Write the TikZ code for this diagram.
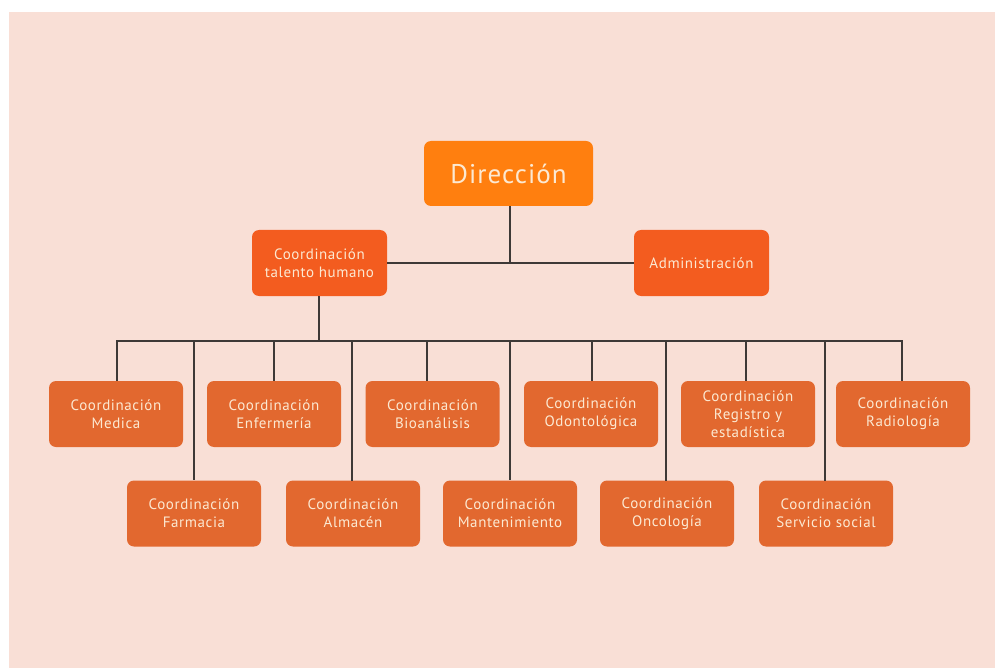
\documentclass[tikz,border=0pt]{standalone}
\usepackage{fontspec}
\setmainfont{PT Sans}[LetterSpace=4]
\definecolor{bgpink}{HTML}{F9DFD6}
\definecolor{dirorange}{HTML}{FF7F0F}
\definecolor{midorange}{HTML}{F35C1F}
\definecolor{loworange}{HTML}{E2682F}
\definecolor{txtcream}{HTML}{FCE9D2}
\definecolor{linegray}{HTML}{3E3937}
\begin{document}
\begin{tikzpicture}[x=1pt,y=-1pt,
  box/.style={rounded corners=7pt, text=txtcream, align=center, inner sep=0pt, font=\fontsize{15}{18}\selectfont},
  dirbox/.style={box, fill=dirorange, minimum width=169pt, minimum height=65pt, font=\fontsize{27}{30}\selectfont},
  midbox/.style={box, fill=midorange, minimum width=135pt, minimum height=66pt},
  lowbox/.style={box, fill=loworange, minimum width=134pt, minimum height=66pt},
  conn/.style={draw=linegray, line width=2.2pt}]
\fill[white] (0,0) rectangle (995,668);
\fill[bgpink] (9,12) rectangle (995,668);
\useasboundingbox (0,0) rectangle (995,668);

\node[dirbox] (dir) at (508.5,173.5) {Dirección};
\node[midbox] (th) at (319.5,263) {Coordinación\\talento humano};
\node[midbox] (adm) at (701.5,263) {Administración};

\node[lowbox] (med) at (116,414) {Coordinación\\Medica};
\node[lowbox] (enf) at (274,414) {Coordinación\\Enfermería};
\node[lowbox] (bio) at (432.5,414) {Coordinación\\Bioanálisis};
\node[lowbox] (odo) at (591,414) {Coordinación\\Odontológica};
\node[lowbox] (reg) at (748,414) {Coordinación\\Registro y\\estadística};
\node[lowbox] (rad) at (903,414) {Coordinación\\Radiología};

\node[lowbox] (far) at (194,513.5) {Coordinación\\Farmacia};
\node[lowbox] (alm) at (353,513.5) {Coordinación\\Almacén};
\node[lowbox] (man) at (510,513.5) {Coordinación\\Mantenimiento};
\node[lowbox] (onc) at (667,513.5) {Coordinación\\Oncología};
\node[lowbox] (ser) at (826,513.5) {Coordinación\\Servicio social};

\coordinate (jtop) at (510,263);
\coordinate (bus) at (319,341);
\coordinate (busL) at (117,341);
\coordinate (busR) at (902,341);

\draw[conn] (th.east) -- (adm.west);
\draw[conn] (dir.south -| jtop) -- (jtop);
\draw[conn] (th.south -| bus) -- (bus);
\draw[conn, line cap=rect] (busL) -- (busR);
\draw[conn] (busL) -- (busL |- med.north);
\draw[conn] (274,341) -- (274,381);
\draw[conn] (427,341) -- (427,381);
\draw[conn] (592,341) -- (592,381);
\draw[conn] (746,341) -- (746,381);
\draw[conn] (busR) -- (busR |- rad.north);
\draw[conn] (194,341) -- (far.north);
\draw[conn] (352,341) -- (352,480.5);
\draw[conn] (510,341) -- (man.north);
\draw[conn] (666,341) -- (666,480.5);
\draw[conn] (825,341) -- (825,480.5);
\end{tikzpicture}
\end{document}
